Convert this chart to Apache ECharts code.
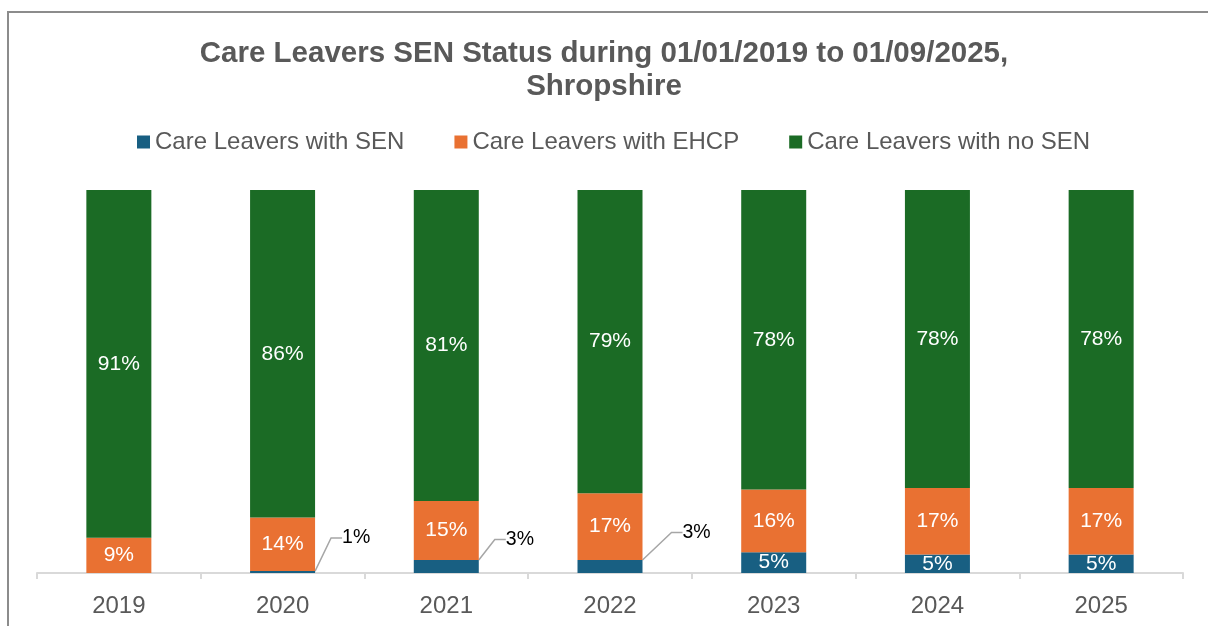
<!DOCTYPE html>
<html>
<head>
<meta charset="utf-8">
<script src="https://cdn.jsdelivr.net/npm/echarts@6/dist/echarts.min.js"></script>
<style>
  html, body { margin: 0; padding: 0; background: #fff; }
  #frame { position: absolute; left: 7px; top: 11px; width: 1400px; height: 800px; border: 2px solid #8c8c8c; box-sizing: border-box; }
  #chart { position: absolute; left: 0; top: 0; width: 1208px; height: 626px; }
</style>
</head>
<body>
<div id="frame"></div>
<div id="chart"></div>
<script>
const years = ['2019', '2020', '2021', '2022', '2023', '2024', '2025'];
const withSEN = [0, 0.5, 3.4, 3.4, 5.4, 4.8, 4.8];
const withEHCP = [9.2, 14.0, 15.4, 17.4, 16.4, 17.4, 17.4];
const noSEN = [90.8, 85.5, 81.2, 79.2, 78.2, 77.8, 77.8];
const seriesNames = ['Care Leavers with SEN', 'Care Leavers with EHCP', 'Care Leavers with no SEN'];

const FONT = '"Liberation Sans", Arial, sans-serif';
const pct = p => (p.value > 0 ? Math.round(p.value) + '%' : '');
const calloutShift = { 1: { dx: 13, dy: -34 }, 2: { dx: 13, dy: -27 }, 3: { dx: 26, dy: -34 } };

const senData = withSEN.map((v, i) => {
  if (calloutShift[i]) {
    return {
      value: v,
      label: { position: 'right', color: '#000000', fontSize: 19.5, distance: 5, padding: [0, 0, 0, 9] },
      labelLine: { show: true, length2: 11, lineStyle: { color: '#a6a6a6', width: 1.5 } }
    };
  }
  return v;
});

const chart = echarts.init(document.getElementById('chart'), null, { renderer: 'canvas' });
chart.setOption({
  backgroundColor: 'transparent',
  animation: false,
  title: {
    text: 'Care Leavers SEN Status during 01/01/2019 to 01/09/2025,\nShropshire',
    left: 'center',
    top: 32,
    textStyle: { fontFamily: FONT, fontSize: 29.5, fontWeight: 'bold', color: '#595959', lineHeight: 33, align: 'center' }
  },
  legend: {
    top: 125,
    left: 132,
    itemWidth: 13,
    itemHeight: 13,
    itemGap: 50,
    icon: 'rect',
    textStyle: { fontFamily: FONT, fontSize: 24, color: '#595959' },
    data: seriesNames
  },
  grid: { left: 37, right: 25, top: 190, bottom: 53, containLabel: false },
  xAxis: {
    type: 'category',
    data: years,
    axisLine: { lineStyle: { color: '#d9d9d9', width: 2 } },
    axisTick: { show: true, length: 6, lineStyle: { color: '#d9d9d9', width: 2 } },
    axisLabel: { fontFamily: FONT, fontSize: 24, color: '#595959', margin: 21 }
  },
  yAxis: {
    type: 'value',
    min: 0,
    max: 100,
    show: false,
    splitLine: { show: false }
  },
  series: [
    {
      name: seriesNames[0],
      type: 'bar',
      stack: 'total',
      barWidth: 65,
      itemStyle: { color: '#185f82' },
      label: { show: true, position: 'inside', formatter: pct, fontFamily: FONT, fontSize: 21, color: '#ffffff' },
      labelLayout: function (p) {
        const s = calloutShift[p.dataIndex];
        return s ? { dx: s.dx, dy: s.dy } : {};
      },
      data: senData
    },
    {
      name: seriesNames[1],
      type: 'bar',
      stack: 'total',
      barWidth: 65,
      itemStyle: { color: '#e97132' },
      label: { show: true, position: 'inside', formatter: pct, fontFamily: FONT, fontSize: 21, color: '#ffffff' },
      data: withEHCP
    },
    {
      name: seriesNames[2],
      type: 'bar',
      stack: 'total',
      barWidth: 65,
      itemStyle: { color: '#1b6b25' },
      label: { show: true, position: 'inside', formatter: pct, fontFamily: FONT, fontSize: 21, color: '#ffffff' },
      data: noSEN
    }
  ]
});
</script>
</body>
</html>
